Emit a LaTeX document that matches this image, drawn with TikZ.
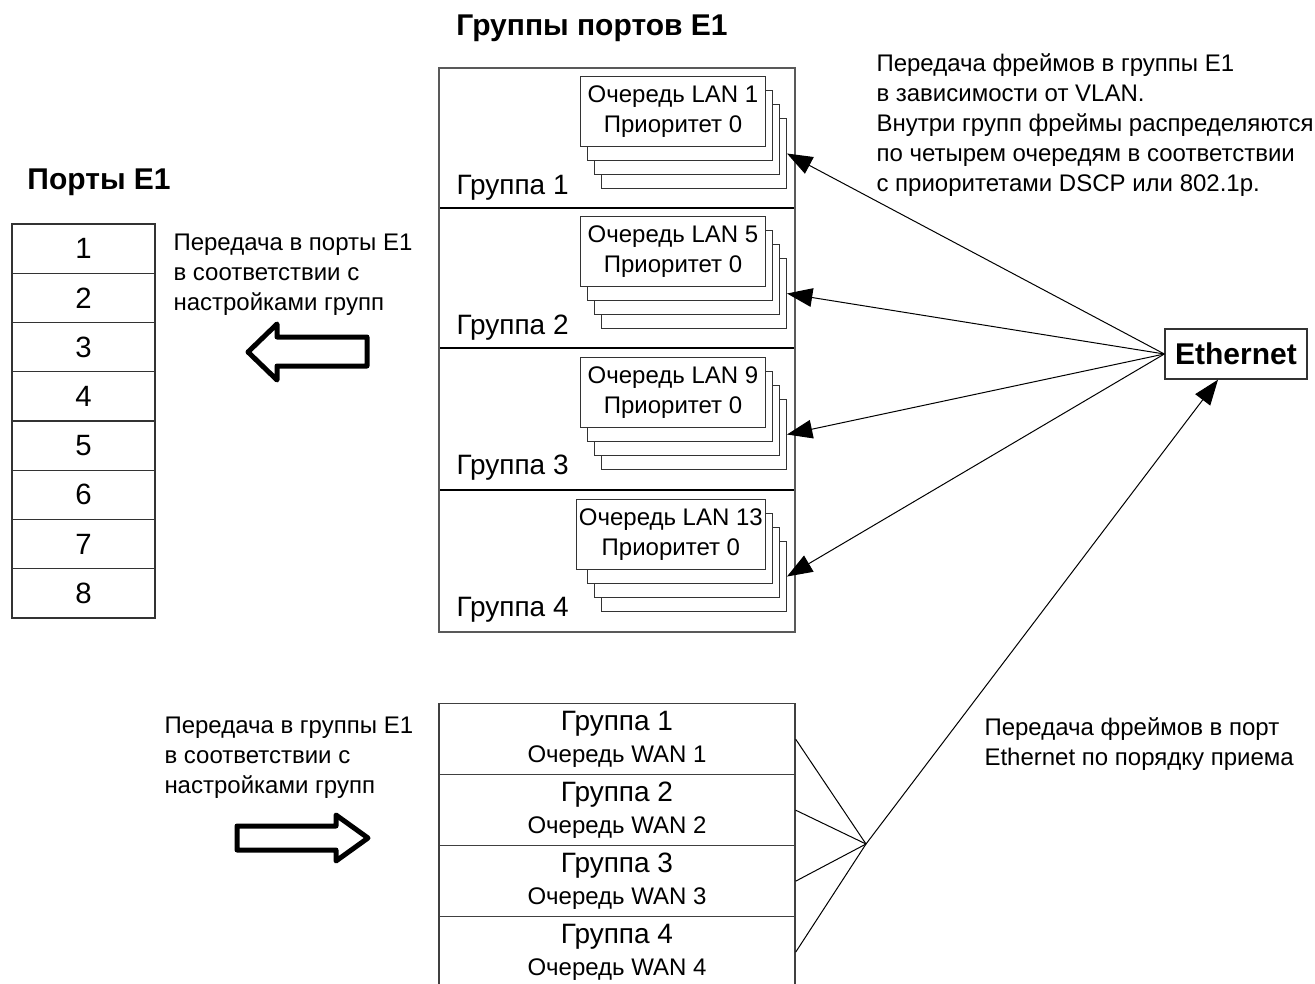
\documentclass[tikz,border=0pt]{standalone}
\usepackage{fontspec}
\setmainfont{Liberation Sans}
\usetikzlibrary{arrows.meta,calc}

\newcommand\txtsize{\fontsize{18}{22.5}\selectfont}
\newcommand\grpsize{\fontsize{21}{25}\selectfont}
\newcommand\portsize{\fontsize{22}{26}\selectfont}
\newcommand\headsize{\fontsize{22.5}{27}\selectfont\bfseries}

\tikzset{every picture/.style={line width=0.75pt}}
\tikzset{
  frame/.style={draw=black!65, line width=1.5pt},
  sep/.style={draw=black, line width=1.5pt},
  head/.style={inner sep=0.75pt, font=\headsize},
  grp/.style={inner sep=0.75pt, font=\grpsize},
  note/.style={inner sep=0.75pt, align=left, font=\txtsize},
  port/.style={draw=black!80, line width=1pt, minimum width=107.25pt, minimum height=36.94pt, inner sep=0pt, font=\portsize},
  qbox/.style={draw=black!80, fill=white, minimum width=138.75pt, minimum height=52.5pt, inner sep=2pt, align=center, font=\txtsize},
  wanbox/.style={draw=black!75, line width=1pt, anchor=north, minimum width=267pt, minimum height=53.25pt, inner sep=0pt, align=center},
  ethbox/.style={draw=black!80, line width=1pt, minimum width=106.5pt, minimum height=37.5pt, inner sep=0pt, font=\headsize},
  tip/.style={-{Triangle[length=19pt,width=14pt]}},
  blockarrow/.style={draw=black, fill=white, line width=3.75pt, line join=round}
}

\begin{document}
\begin{tikzpicture}[x=0.75pt,y=0.75pt,yscale=-1,xscale=1]
    \useasboundingbox (0,0) rectangle (1315,983);

    % Headings
    \node[head] (hgroups) at (592,28) {Группы портов E1};
    \node[head, anchor=west] (hports) at (26,182) {Порты E1};

    % Ports E1
    \foreach \i in {1,...,8} {
        \node[port] (p\i) at (83.5,{224+49.25*(\i-0.5)}) {\i};
    }

    % Port groups
    \foreach \y in {208,348,490} {
        \draw[sep] (439,\y) -- (795,\y);
    }
    \draw[frame] (439,68) rectangle (795,632);
    \foreach \g/\y in {1/188,2/328,3/468,4/610} {
        \node[grp, anchor=west] (g\g) at (455,\y) {Группа \g};
    }

    % Queue stacks
    \foreach \g/\y/\q in {1/76/1,2/216/5,3/357/9,4/499/13} {
        \foreach \s in {3,2,1} {
            \node[qbox, anchor=north east] (q\g-\s) at ({766+7*\s},{\y+14*\s}) {};
        }
        \node[qbox, anchor=north east] (q\g) at (766,\y) {Очередь LAN \q\\Приоритет 0};
    }

    % Ethernet
    \node[ethbox] (eth) at (1236,354) {Ethernet};
    \foreach \g in {1,...,4} {
        \draw[tip] (eth.west) -- (q\g-3.east);
    }

    % WAN queues
    \foreach \i in {1,...,4} {
        \node[wanbox] (w\i) at (617,{703+71*(\i-1)}) {{\grpsize Группа \i}\\[6pt]{\txtsize Очередь WAN \i}};
    }
    \coordinate (join) at (866,844);
    \foreach \i in {1,...,4} {
        \draw (w\i.east) -- (join);
    }
    \draw[tip] (join) -- ($(eth.south)+(-18,0)$);

    % Block arrows
    \draw[blockarrow] (248,352) -- (277,324) -- (277,337) -- (367,337) -- (367,366) -- (277,366) -- (277,380) -- cycle;
    \draw[blockarrow] (237,826) -- (336,826) -- (336,815) -- (368,838) -- (336,861) -- (336,850) -- (237,850) -- cycle;

    % Text Node
    \node[note, anchor=north west] (nports) at (172,232) {Передача в порты E1\\в соответствии с\\настройками групп};
    % Text Node
    \node[note, anchor=north west] (nvlan) at (875,52) {Передача фреймов в группы E1\\в зависимости от VLAN.\\Внутри групп фреймы распределяются\\по четырем очередям в соответствии\\с приоритетами DSCP или 802.1p.};
    % Text Node
    \node[note, anchor=north west] (ngroups) at (163,715) {Передача в группы E1\\в соответствии с\\настройками групп};
    % Text Node
    \node[note, anchor=north west] (neth) at (983,716) {Передача фреймов в порт\\Ethernet по порядку приема};
\end{tikzpicture}
\end{document}
